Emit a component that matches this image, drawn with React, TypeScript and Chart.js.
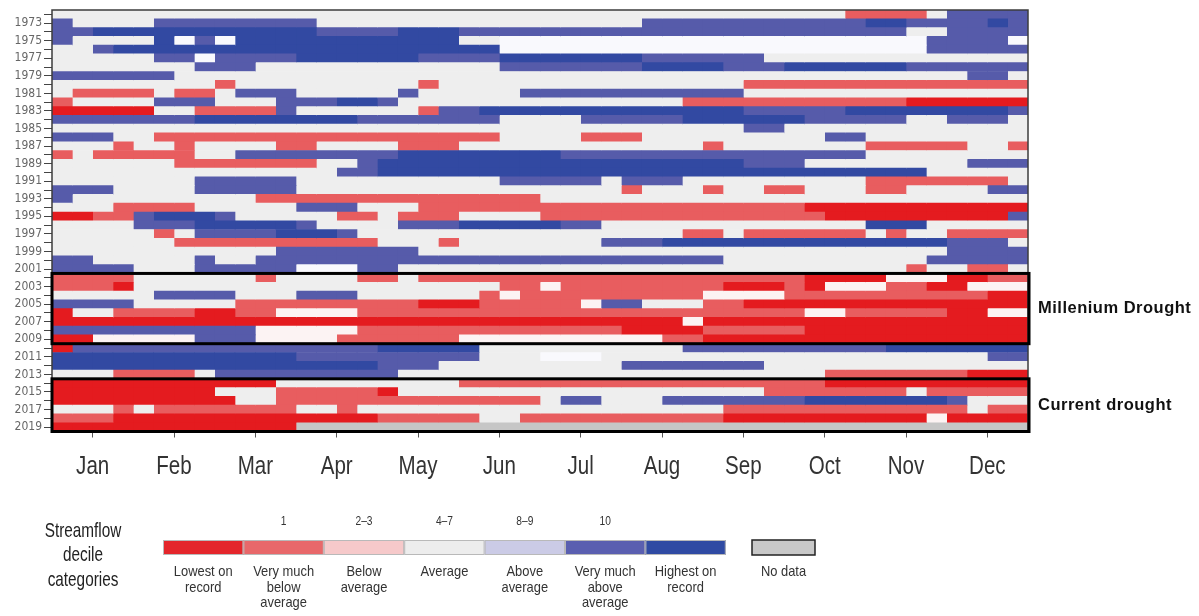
import React, { useEffect, useRef } from 'react';
import { Chart, registerables } from 'chart.js';

Chart.register(...registerables);

// Years shown as rows (top = 1972, bottom = 2019)
const YEARS: string[] = [
  '1972', '1973', '1974', '1975', '1976', '1977', '1978', '1979', '1980', '1981',
  '1982', '1983', '1984', '1985', '1986', '1987', '1988', '1989', '1990', '1991',
  '1992', '1993', '1994', '1995', '1996', '1997', '1998', '1999', '2000', '2001',
  '2002', '2003', '2004', '2005', '2006', '2007', '2008', '2009', '2010', '2011',
  '2012', '2013', '2014', '2015', '2016', '2017', '2018', '2019',
];

const MONTHS: string[] = ['Jan', 'Feb', 'Mar', 'Apr', 'May', 'Jun', 'Jul', 'Aug', 'Sep', 'Oct', 'Nov', 'Dec'];

// Quarter-month periods per year (4 per month, 48 per year)
const PERIODS_PER_YEAR = 48;

// Streamflow decile category per quarter-month, one string per year.
// 0 lowest on record, 1 very much below, 2 below, 3 average, 4 above,
// 5 very much above, 6 highest on record, 7 no data
const DECILES: string[] = [
  '3333333333333333' + '3333333333333333' + '3333333111135555', // 1972
  '5333355555555333' + '3333333333333555' + '5555555566555565', // 1973
  '5566666666666555' + '5666555555555555' + '5555555555335555', // 1974
  '5333364546666666' + '6666334444444444' + '4444444444455554', // 1975
  '3356666666666666' + '6666664444444444' + '4444444444455555', // 1976
  '3333355455556666' + '6655556666666555' + '5553333333333333', // 1977
  '3333333555333333' + '3333335555555666' + '6555666666555555', // 1978
  '5555553333333333' + '3333333333333333' + '3333333333333553', // 1979
  '3333333313333333' + '3313333333333333' + '3311111111111111', // 1980
  '3111131135553333' + '3533333555555555' + '5533333333333333', // 1981
  '1333355533355566' + '5333333333333331' + '1111111111000000', // 1982
  '0000033111153333' + '3315566666666666' + '6655555666666665', // 1983
  '5555555666666665' + '5555553333555556' + '6666655555335553', // 1984
  '3333333333333333' + '3333333333333333' + '3355333333333333', // 1985
  '5553311111111111' + '1111113333111333' + '3333335533333333', // 1986
  '3331331333311333' + '3111333333333333' + '1333333311111331', // 1987
  '1311111335555555' + '5666666665555555' + '5555555533333333', // 1988
  '3333331111111335' + '6666666666666666' + '6655533333333555', // 1989
  '3333333333333355' + '6666666666666666' + '6666666666633333', // 1990
  '3333333555553333' + '3333335555535553' + '3333333311111113', // 1991
  '5553333555553333' + '3333333333331333' + '1331133311333355', // 1992
  '5333333333111111' + '1111111133333333' + '3333333333333333', // 1993
  '3331111333335553' + '3311111111111111' + '1111100000000000', // 1994
  '0011566653333311' + '3111333311111111' + '1111110000000005', // 1995
  '3333555666665333' + '3555666665533333' + '3333333366633333', // 1996
  '3333313555566653' + '3333333333333331' + '1311111131331111', // 1997
  '3333331111111111' + '3331333333355566' + '6666666666665553', // 1998
  '3333333333355555' + '5533333333333333' + '3333333333335555', // 1999
  '5533333533555555' + '5555555555555555' + '5333333333355555', // 2000
  '5555333555554445' + '5333333333333333' + '3333333333133113', // 2001
  '1111333333133331' + '1311111111111111' + '1111100002220011', // 2002
  '1110333333333333' + '3333331121111111' + '1000102221100222', // 2003
  '3333355553335553' + '3333312111111111' + '2222111111111100', // 2004
  '5555333331111111' + '1100011111255333' + '1100000000000000', // 2005
  '0331111001122221' + '1111111111111111' + '1111122111110022', // 2006
  '0000000000000000' + '0000000000000002' + '0000000000000000', // 2007
  '5555555555222221' + '1111111111110000' + '1111100000000000', // 2008
  '0022222555222211' + '1111222222222211' + '0000000000000000', // 2009
  '0555555555555555' + '6666633333333335' + '5555555556666666', // 2010
  '6666666666665555' + '5555533344433333' + '3333333333333355', // 2011
  '6666666666666666' + '5553333333335555' + '5553333333333333', // 2012
  '3331111355555555' + '5333333333333333' + '3333331111111000', // 2013
  '0000000000033333' + '3333111111111111' + '1111110000000000', // 2014
  '0000000033311111' + '0333333333333333' + '3331111111311111', // 2015
  '0000000003311111' + '1111111135533355' + '5555566666665333', // 2016
  '3331311111113313' + '3333333333333333' + '3111111111111311', // 2017
  '1110000000000000' + '1111133111111111' + '1000000000020000', // 2018
  '0000000000007777' + '7777777777777777' + '7777777777777777', // 2019
];

const HEAT_COLORS: string[] = ['#e41b1f', '#e85d5f', '#fcf3f3', '#eeeeee', '#f9f9fd', '#565baa', '#3249a2', '#c6c6c6'];

const LEGEND_COLORS: string[] = ['#e4262b', '#e8686a', '#f6c9ca', '#ededed', '#cbcbe6', '#5a5fb0', '#2f4aa3'];
const LEGEND_NUMBERS: string[] = ['', '1', '2\u20133', '4\u20137', '8\u20139', '10', ''];
const LEGEND_LABELS: string[][] = [
  ['Lowest on', 'record'],
  ['Very much', 'below', 'average'],
  ['Below', 'average'],
  ['Average'],
  ['Above', 'average'],
  ['Very much', 'above', 'average'],
  ['Highest on', 'record'],
];
const LEGEND_TITLE: string[] = ['Streamflow', 'decile', 'categories'];
const NO_DATA_LABEL = 'No data';

const DROUGHTS = [
  { from: '2002', to: '2009', label: 'Millenium Drought' },
  { from: '2014', to: '2019', label: 'Current drought' },
];

const NARROW = '"Liberation Sans Narrow", "Arial Narrow", "DejaVu Sans Condensed", sans-serif';
const SANS = '"Liberation Sans", Arial, sans-serif';

function drawNarrow(ctx: any, text: string, x: number, y: number, size: number, sx: number, color: string) {
  ctx.save();
  ctx.font = size + 'px ' + SANS;
  ctx.fillStyle = color;
  ctx.textAlign = 'center';
  ctx.textBaseline = 'middle';
  ctx.translate(x, y);
  ctx.scale(sx, 1);
  ctx.fillText(text, 0, 0);
  ctx.restore();
}

const overlayPlugin = {
  id: 'overlay',
  afterDatasetsDraw(chart: any) {
    const { ctx, chartArea: a, scales } = chart;
    const ys = scales.y;
    const rowH = (a.bottom - a.top) / YEARS.length;
    ctx.save();
    ctx.strokeStyle = '#3c3c3c';
    ctx.lineWidth = 1.5;
    ctx.strokeRect(a.left, a.top, a.right - a.left, a.bottom - a.top);

    for (const d of DROUGHTS) {
      const i0 = YEARS.indexOf(d.from);
      const i1 = YEARS.indexOf(d.to);
      const top = ys.getPixelForValue(i0) - rowH / 2;
      const bot = ys.getPixelForValue(i1) + rowH / 2;
      ctx.lineWidth = 3;
      ctx.strokeStyle = '#000';
      ctx.strokeRect(a.left, top, a.right - a.left + 1, bot - top);
      ctx.fillStyle = '#111';
      ctx.font = 'bold 16.5px ' + SANS;
      try { ctx.letterSpacing = '0.5px'; } catch (e) { /* ignore */ }
      ctx.textAlign = 'left';
      ctx.textBaseline = 'middle';
      ctx.fillText(d.label, a.right + 10, (top + bot) / 2);
      try { ctx.letterSpacing = '0px'; } catch (e) { /* ignore */ }
    }
    ctx.restore();
  },
  afterDraw(chart: any) {
    const { ctx, scales, chartArea: a } = chart;
    // month labels under the axis
    MONTHS.forEach((m, i) => {
      const x = scales.x.getPixelForValue(i * 4 + 2);
      drawNarrow(ctx, m, x, a.bottom + 35, 26, 0.79, '#333');
    });

    // legend title
    LEGEND_TITLE.forEach((t, i) => drawNarrow(ctx, t, 83, 531 + i * 24.5, 21, 0.73, '#222'));

    const x0 = 163;
    const w = 80.4;
    const y0 = 540;
    const h = 15;
    ctx.save();
    LEGEND_COLORS.forEach((c, i) => {
      const x = x0 + i * w;
      ctx.fillStyle = c;
      ctx.fillRect(x, y0, w, h);
      ctx.strokeStyle = '#b9b9b9';
      ctx.lineWidth = 1;
      ctx.strokeRect(x + 0.5, y0 + 0.5, w - 1, h - 1);
      const cx = x + w / 2;
      if (LEGEND_NUMBERS[i]) drawNarrow(ctx, LEGEND_NUMBERS[i], cx, 522, 12, 0.85, '#333');
      LEGEND_LABELS[i].forEach((l, j) => drawNarrow(ctx, l, cx, 572 + j * 15.5, 15, 0.86, '#333'));
    });
    // no data
    ctx.fillStyle = '#c8c8c8';
    ctx.fillRect(752, y0, 63, h);
    ctx.strokeStyle = '#222';
    ctx.lineWidth = 1.5;
    ctx.strokeRect(752, y0, 63, h);
    ctx.restore();
    drawNarrow(ctx, NO_DATA_LABEL, 783.5, 572, 15, 0.86, '#333');
  },
};

export default function App() {
  const ref = useRef<HTMLCanvasElement>(null);

  useEffect(() => {
    document.body.style.margin = '0';
    const canvas = ref.current;
    if (!canvas) return;

    const datasets: any[] = [];
    for (let c = 0; c < PERIODS_PER_YEAR; c++) {
      datasets.push({
        label: 'p' + c,
        data: YEARS.map(() => 1),
        backgroundColor: DECILES.map((row) => HEAT_COLORS[Number(row.charAt(c) || '3')]),
        borderWidth: 0,
        barPercentage: 1,
        categoryPercentage: 1,
        stack: 'year',
      });
    }

    const chart = new Chart(canvas, {
      type: 'bar',
      data: { labels: YEARS, datasets },
      options: {
        indexAxis: 'y',
        responsive: false,
        animation: false,
        devicePixelRatio: 1,
        layout: { padding: { top: 10, right: 171, bottom: 0, left: 0 } },
        plugins: {
          legend: { display: false },
          tooltip: { enabled: false },
          title: { display: false },
        },
        scales: {
          x: {
            type: 'linear',
            stacked: true,
            min: 0,
            max: PERIODS_PER_YEAR,
            afterBuildTicks: (s: any) => {
              s.ticks = MONTHS.map((_, i) => ({ value: i * 4 + 2 }));
            },
            afterFit: (s: any) => {
              s.height = 184.5;
            },
            ticks: {
              autoSkip: false,
              maxRotation: 0,
              padding: 14,
              color: 'rgba(0,0,0,0)',
              font: { family: NARROW, size: 12 },
              callback: (_v: any, i: number) => MONTHS[i],
            },
            grid: { drawOnChartArea: false, drawTicks: true, tickLength: 6, color: '#555' },
            border: { display: false },
          },
          y: {
            type: 'category',
            stacked: true,
            offset: true,
            afterFit: (s: any) => {
              s.width = 52;
            },
            ticks: {
              autoSkip: false,
              padding: 2,
              color: '#666',
              font: { family: NARROW, size: 12 },
              callback: (_v: any, i: number) => (Number(YEARS[i]) % 2 === 1 ? YEARS[i] : ''),
            },
            grid: { offset: false, drawOnChartArea: false, drawTicks: true, tickLength: 8, color: '#444' },
            border: { display: false },
          },
        },
      } as any,
      plugins: [overlayPlugin],
    });

    return () => chart.destroy();
  }, []);

  return (
    <div style={{ width: 1199, height: 616, position: 'relative', background: '#fff' }}>
      <canvas ref={ref} width={1199} height={616} style={{ display: 'block', width: 1199, height: 616 }} />
    </div>
  );
}
